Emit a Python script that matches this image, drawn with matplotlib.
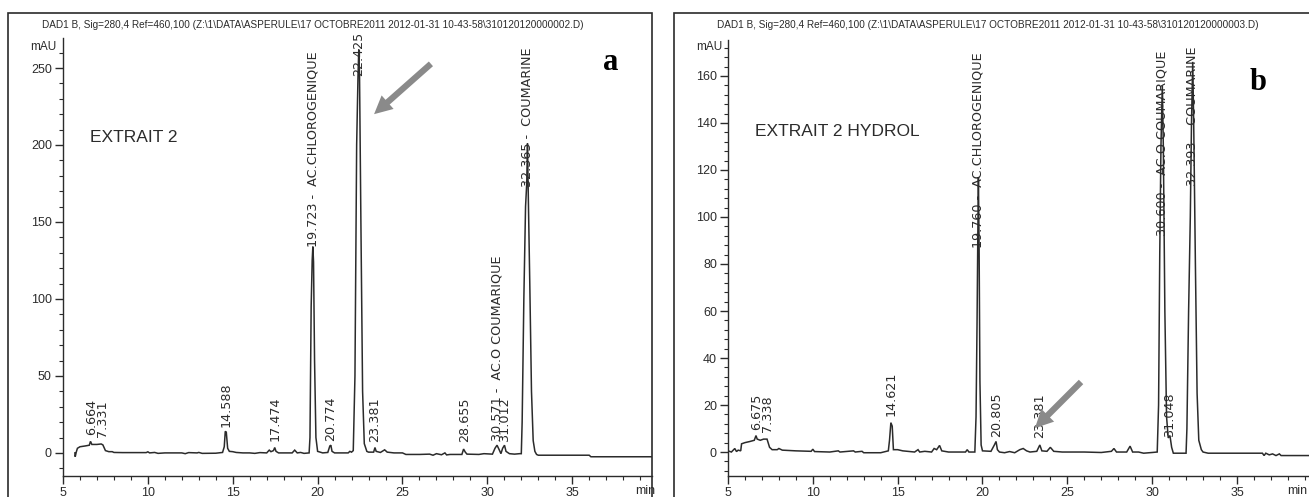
import matplotlib
matplotlib.use("Agg")
import matplotlib.pyplot as plt
from matplotlib.patches import Rectangle, FancyArrowPatch
from matplotlib.ticker import MultipleLocator

# ---------------- data ----------------
left_t = [5.70, 5.72, 5.78, 5.85, 6.0, 6.3, 6.55, 6.62, 6.70, 6.80, 7.0, 7.25, 7.35, 7.50, 7.7, 7.9, 8.0,
          8.5, 9.9, 10.0, 10.1, 10.4, 10.6, 11.0, 12.0, 12.2, 12.4, 12.9, 13.0, 13.2, 14.0, 14.4,
          14.50, 14.56, 14.62, 14.70, 14.8, 15.0, 15.2, 15.6, 16.0, 16.3, 16.6, 17.0, 17.15, 17.25,
          17.4, 17.474, 17.55, 17.7, 18.5, 18.65, 18.8, 19.0, 19.2, 19.5, 19.55, 19.62, 19.68, 19.72,
          19.76, 19.82, 19.90, 20.0, 20.3, 20.6, 20.72, 20.78, 20.85, 21.0, 21.8, 21.9, 22.0, 22.1,
          22.2, 22.30, 22.38, 22.425, 22.47, 22.55, 22.65, 22.75, 22.9, 23.0, 23.3, 23.38, 23.45,
          23.7, 23.95, 24.1, 24.5, 25.0, 25.2, 26.0, 26.6, 26.8, 27.0, 27.3, 27.5, 27.6, 27.8, 28.0,
          28.5, 28.6, 28.7, 28.8, 29.5, 29.8, 30.3, 30.45, 30.57, 30.70, 30.8, 30.9, 31.01, 31.1,
          31.3, 31.6, 31.9, 32.0, 32.05, 32.15, 32.25, 32.32, 32.365, 32.40, 32.5, 32.6, 32.7, 32.8,
          32.9, 33.0, 34.0, 35.0, 36.0, 36.1, 39.7]
left_y = [0.0, -2.5, 0.5, 3.0, 4.0, 4.5, 5.0, 7.5, 5.5, 5.5, 5.5, 5.8, 5.2, 1.5, 0.8, 0.8, 0.3,
          0.2, 0.2, 0.7, 0.0, 0.3, -0.3, 0.0, 0.0, -0.5, 0.2, 0.0, 0.3, -0.3, -0.2, 0.3,
          4, 14, 13.5, 3, 1, 0.8, 0.3, 0.0, 0.0, -0.3, 0.2, 0.0, 1.8, 0.8,
          1.5, 3.5, 1.0, 0.0, 0.0, 1.8, 0.0, 0.3, -0.3, 0.0, 10, 95, 125, 134,
          124, 60, 10, 1, 0, 0.3, 4.5, 5, 1, 0, 0, 1.0, 0.5, 1.5,
          50, 200, 245, 262, 245, 150, 40, 6, 1, 0.5, 0.5, 3.5, 1,
          0.3, 2, 0.5, 0, 0, -1, -1, -0.8, -1.5, -0.5, -1.2, 0.0, -1.3, -1.0, -1.0,
          -1.0, 2.5, 0.5, -0.8, -1, -0.5, -0.8, 3, 5, 2, -0.5, 3, 5, 1,
          -0.5, -0.8, -0.5, -0.5, 20, 100, 160, 175, 201, 175, 110, 40, 8, 1,
          -1, -1.5, -1.5, -1.5, -1.5, -2.5, -2.5]

right_t = [5.0, 5.2, 5.4, 5.5, 5.6, 5.75, 5.80, 6.0, 6.3, 6.55, 6.65, 6.72, 6.9, 7.1, 7.3, 7.45, 7.6,
           7.9, 8.0, 8.2, 9.0, 9.9, 10.0, 10.1, 11.0, 11.5, 11.6, 12.4, 12.5, 12.9, 13.0, 14.0,
           14.45, 14.52, 14.6, 14.68, 14.75, 15.0, 15.3, 16.0, 16.2, 16.3, 16.6, 17.0, 17.15, 17.3,
           17.47, 17.6, 18.0, 19.0, 19.1, 19.2, 19.55, 19.62, 19.68, 19.72, 19.76, 19.80, 19.85,
           19.92, 20.0, 20.5, 20.7, 20.8, 20.88, 21.0, 21.3, 21.6, 21.9, 22.2, 22.4, 22.6, 22.8,
           23.2, 23.38, 23.5, 23.8, 24.0, 24.2, 24.7, 25.0, 26.0, 27.0, 27.6, 27.75, 27.9, 28.5,
           28.7, 28.85, 29.2, 29.5, 30.0, 30.3, 30.38, 30.45, 30.52, 30.60, 30.66, 30.75, 30.85,
           30.95, 31.05, 31.15, 31.25, 31.6, 32.0, 32.05, 32.15, 32.25, 32.32, 32.393, 32.45,
           32.55, 32.65, 32.75, 32.9, 33.0, 33.3, 36.5, 36.6, 36.7, 36.9, 37.1, 37.3, 37.5, 37.6, 39.7]
right_y = [0.5, 0.0, 1.5, 0.2, 0.8, 0.5, 3.5, 4.0, 4.5, 5.0, 7.0, 5.5, 5.0, 5.5, 5.5, 2.0, 1.0,
           1.0, 1.5, 0.8, 0.5, 0.3, 1.2, 0.2, 0.0, 0.5, 0.0, 0.5, 0.0, 0.3, -0.3, -0.3,
           0.5, 5, 12.5, 11, 1.0, 1.0, 0.5, 0.0, 1.0, 0.0, 0.3, 0, 1.5, 1.0,
           2.8, 0.5, 0.0, 0.0, 1.0, 0.0, 0, 15, 55, 88, 117, 88, 30,
           3, 0.5, 0.3, 3, 4.5, 1, 0, -0.3, 0.2, -0.3, 1.0, 1.5, 0.5, 0.0,
           0.3, 3.0, 0.5, 0.3, 2.0, 0.3, 0.0, 0.0, 0, -0.2, 0.3, 1.5, 0.0, 0.0,
           2.5, 0.0, 0.0, -0.5, -0.2, 0.0, 20, 85, 130, 156, 130, 60, 15,
           6, 7, 2, -0.5, -0.5, -0.5, 10, 60, 100, 140, 166, 140,
           80, 25, 5, 1, 0, -0.5, -0.5, -1.5, -0.5, -1.2, -0.8, -1.5, -0.8, -1.5, -1.5]

left_labels = ["6.664", "7.331", "14.588", "17.474", "19.723 -  AC.CHLOROGENIQUE", "20.774",
               "22.425", "23.381", "28.655", "30.571 -  AC.O COUMARIQUE", "31.012",
               "32.365 -  COUMARINE"]
left_label_t = [6.664, 7.331, 14.588, 17.474, 19.723, 20.774, 22.425, 23.381, 28.655, 30.571,
                31.012, 32.365]
left_label_h = [11.5, 10.5, 17, 8, 134, 8, 245, 7, 7, 7.5, 7, 173]

right_labels = ["6.675", "7.338", "14.621", "19.760 -  AC.CHLOROGENIQUE", "20.805", "23.381",
                "30.600 -  AC.O COUMARIQUE", "31.048", "32.393 -  COUMARINE"]
right_label_t = [6.675, 7.338, 14.621, 19.760, 20.805, 23.381, 30.600, 31.048, 32.393]
right_label_h = [9.5, 8.5, 15.5, 87, 6.5, 6, 92, 6.5, 113]

left_title = r"DAD1 B, Sig=280,4 Ref=460,100 (Z:\1\DATA\ASPERULE\17 OCTOBRE2011 2012-01-31 10-43-58\310120120000002.D)"
right_title = r"DAD1 B, Sig=280,4 Ref=460,100 (Z:\1\DATA\ASPERULE\17 OCTOBRE2011 2012-01-31 10-43-58\310120120000003.D)"
left_name = "EXTRAIT 2"
right_name = "EXTRAIT 2 HYDROL"

# ---------------- figure ----------------
W, H = 1309, 497
fig = plt.figure(figsize=(W / 100, H / 100), dpi=100)
fig.patch.set_facecolor("white")

NARROW = ["Liberation Sans Narrow", "Liberation Sans", "DejaVu Sans"]
INK = "#2b2b2b"


def fx(px):
    return px / W


def fy(py):
    return 1 - py / H


def make_axes(x0, x1, y_top, y_bot, xlim, ylim, ymaj, ymin):
    ax = fig.add_axes([fx(x0), fy(y_bot), fx(x1 - x0), (y_bot - y_top) / H])
    ax.set_xlim(*xlim)
    ax.set_ylim(*ylim)
    for s in ("top", "right"):
        ax.spines[s].set_visible(False)
    for s in ("left", "bottom"):
        ax.spines[s].set_color(INK)
        ax.spines[s].set_linewidth(1.0)
    ax.xaxis.set_major_locator(MultipleLocator(5))
    ax.xaxis.set_minor_locator(MultipleLocator(1))
    ax.yaxis.set_major_locator(MultipleLocator(ymaj))
    ax.yaxis.set_minor_locator(MultipleLocator(ymin))
    ax.tick_params(which="major", direction="out", length=6, width=1, color=INK,
                   labelsize=9, labelcolor=INK, pad=2)
    ax.tick_params(which="minor", direction="out", length=3, width=0.8, color=INK)
    for lab in ax.get_xticklabels() + ax.get_yticklabels():
        lab.set_family(NARROW)
    ax.patch.set_alpha(0)
    return ax


def draw_panel(ax, t, y, labels, lt, lh):
    ax.plot(t, y, color=INK, lw=1.1, solid_joinstyle="miter")
    for txt, xx, hh in zip(labels, lt, lh):
        ax.text(xx, hh, txt, rotation=90, ha="center", va="bottom", fontsize=9.2,
                color=INK, family="DejaVu Sans", clip_on=False)


# frames
fig.add_artist(Rectangle((fx(8), fy(520)), fx(652 - 8), (520 - 13) / H, transform=fig.transFigure,
                         fill=False, ec=INK, lw=1.2, clip_on=False))
fig.add_artist(Rectangle((fx(674), fy(520)), fx(1320 - 674), (520 - 13) / H, transform=fig.transFigure,
                         fill=False, ec=INK, lw=1.2, clip_on=False))

# left panel
ax1 = make_axes(63, 652, 38, 476, (5, 39.7), (-15, 269.5), 50, 10)
draw_panel(ax1, left_t, left_y, left_labels, left_label_t, left_label_h)
fig.text(fx(313), fy(25), left_title, ha="center", va="center", fontsize=7.2, color=INK,
         family=NARROW)
fig.text(fx(43), fy(47), "mAU", ha="center", va="center", fontsize=8.5, color=INK, family=NARROW)
fig.text(fx(645), fy(491), "min", ha="center", va="center", fontsize=9, color=INK, family=NARROW)
fig.text(fx(90), fy(138), left_name, ha="left", va="center", fontsize=12.5, color=INK, family=NARROW)
fig.text(fx(611), fy(62), "a", ha="center", va="center", fontsize=22, fontweight="bold",
         color="black", family=["Liberation Serif", "DejaVu Serif"])

# right panel
ax2 = make_axes(728, 1315, 40, 476, (5, 39.6), (-10.2, 175.3), 20, 4)
draw_panel(ax2, right_t, right_y, right_labels, right_label_t, right_label_h)
fig.text(fx(988), fy(25), right_title, ha="center", va="center", fontsize=7.2, color=INK,
         family=NARROW)
fig.text(fx(709), fy(47), "mAU", ha="center", va="center", fontsize=8.5, color=INK, family=NARROW)
fig.text(fx(755), fy(131), right_name, ha="left", va="center", fontsize=12.5, color=INK, family=NARROW)
fig.text(fx(1258), fy(83), "b", ha="center", va="center", fontsize=22, fontweight="bold",
         color="black", family=["Liberation Serif", "DejaVu Serif"])
fig.text(fx(1307), fy(491), "min", ha="right", va="center", fontsize=9, color=INK, family=NARROW)

# arrows
for (x0, y0), (x1, y1) in [((433, 62), (372, 116)), ((1083, 380), (1033, 430))]:
    arr = FancyArrowPatch((fx(x0), fy(y0)), (fx(x1), fy(y1)), transform=fig.transFigure,
                          arrowstyle="simple,head_length=13,head_width=13,tail_width=4.5",
                          mutation_scale=1, color="#8a8a8a", lw=0, zorder=10)
    fig.add_artist(arr)

fig.savefig("out.png", dpi=100, facecolor="white")
